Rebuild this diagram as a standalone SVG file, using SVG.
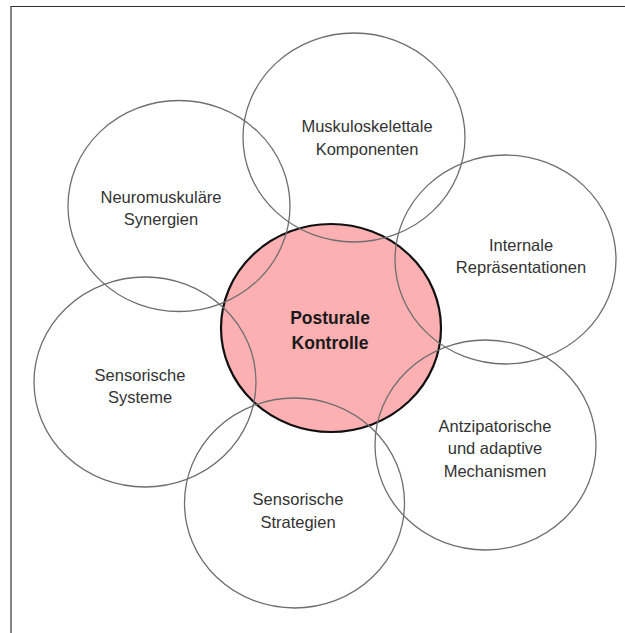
<svg xmlns="http://www.w3.org/2000/svg" width="625" height="633" viewBox="0 0 625 633">
  <style>
    .ring { fill: none; stroke: #6e6e6e; stroke-width: 1.3; }
    .core { fill: #fdb0b2; stroke: #111111; stroke-width: 2.2; }
    .label { font-family: "Liberation Sans", Arial, sans-serif; font-size: 16.5px; fill: #333333; text-anchor: middle; }
    .title { font-family: "Liberation Sans", Arial, sans-serif; font-size: 17.5px; font-weight: bold; fill: #1a1a1a; text-anchor: middle; }
    .frame { stroke: #333333; stroke-width: 1.2; fill: none; }
  </style>

  <rect width="625" height="633" fill="#ffffff"/>
  <!-- frame edges: top and left only -->
  <path class="frame" d="M11 633 V6.5 H625"/>

  <!-- central concept -->
  <g id="posturale-kontrolle">
    <ellipse class="core" cx="331" cy="328" rx="110" ry="104"/>
    <text class="title" x="330" y="324">Posturale</text>
    <text class="title" x="330" y="349">Kontrolle</text>
  </g>

  <g id="muskuloskelettale-komponenten">
    <ellipse class="ring" cx="354" cy="137.5" rx="111" ry="104.5"/>
    <text class="label" x="367" y="132">Muskuloskelettale</text>
    <text class="label" x="367" y="155">Komponenten</text>
  </g>

  <g id="neuromuskulaere-synergien">
    <ellipse class="ring" cx="179" cy="206" rx="111" ry="105.5"/>
    <text class="label" x="161" y="203">Neuromuskuläre</text>
    <text class="label" x="161" y="225">Synergien</text>
  </g>

  <g id="internale-repraesentationen">
    <ellipse class="ring" cx="505.5" cy="259.5" rx="110.5" ry="104.5"/>
    <text class="label" x="521" y="251">Internale</text>
    <text class="label" x="521" y="273">Repräsentationen</text>
  </g>

  <g id="sensorische-systeme">
    <ellipse class="ring" cx="145" cy="382" rx="111" ry="105"/>
    <text class="label" x="140" y="381">Sensorische</text>
    <text class="label" x="140" y="403">Systeme</text>
  </g>

  <g id="sensorische-strategien">
    <ellipse class="ring" cx="294.5" cy="503" rx="110" ry="105"/>
    <text class="label" x="298" y="505">Sensorische</text>
    <text class="label" x="298" y="528">Strategien</text>
  </g>

  <g id="antizipatorische-mechanismen">
    <ellipse class="ring" cx="485.5" cy="445" rx="110.5" ry="105"/>
    <text class="label" x="495" y="432">Antzipatorische</text>
    <text class="label" x="495" y="454">und adaptive</text>
    <text class="label" x="495" y="477">Mechanismen</text>
  </g>
</svg>
